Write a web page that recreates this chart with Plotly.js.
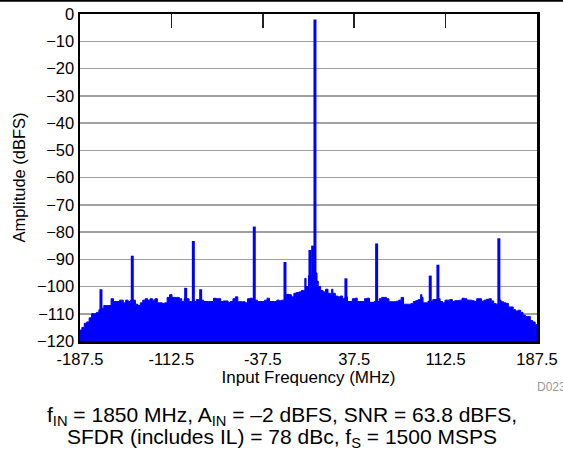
<!DOCTYPE html>
<html>
<head>
<meta charset="utf-8">
<script src="https://cdn.plot.ly/plotly-3.0.1.min.js"></script>
<style>
  html, body { margin: 0; padding: 0; background: #fff; }
  #chart { width: 563px; height: 449px; }
</style>
</head>
<body>
<div id="chart"></div>
<script>
// Noise-floor envelope (MHz, dBFS)
const noiseFreq = [-187.5,-186,-184,-182,-180,-178,-176,-174,-172,-170,-168,-166,-164,-162,-160,-157,-155,-152,-150,-148,-146,-142,-140,-138,-136,-134,-132,-130,-128,-126,-124,-120,-118,-116,-114,-112,-108,-106,-104,-102,-98,-96,-92,-90,-86,-82,-78,-76,-72,-70,-66,-64,-62,-60,-58,-54,-52,-50,-48,-46,-42,-38,-36,-34,-32,-28,-26,-24,-22,-18,-16,-14,-12,-10,-8,-6,-4,-3,-2,0,6,7,8,10,12,14,16,18,19,20,22,24,26,28,30,32,34,36,38,40,44,46,48,50,54,56,58,60,62,64,66,70,72,74,76,78,82,84,86,88,90,92,93,94,98,102,106,108,110,112,114,116,118,120,124,126,128,130,134,136,138,140,142,144,146,148,150,152,154,156,158,160,162,164,166,168,170,172,174,176,178,180,182,184,186,187.5];
const noiseAmp = [-116,-115,-113.5,-113,-111.5,-110,-110,-109.5,-108.5,-108,-107,-107,-107,-104.5,-105.5,-105.5,-105,-106,-105,-105.5,-105,-106.5,-107,-106,-105,-104.5,-105,-104.5,-105,-104.5,-106,-106.2,-106,-104,-103,-104,-104,-104.5,-105.5,-104.5,-105.5,-105.5,-104.8,-105,-105.5,-105.5,-104.3,-104.5,-105.5,-105.3,-105.8,-105.5,-104.5,-103.8,-105.6,-105.6,-106,-104.5,-104.3,-105,-105.5,-105.5,-105,-104.3,-105.5,-105.5,-105,-105.2,-105,-102.9,-103,-103.8,-102.5,-102.2,-102,-101.5,-101.5,-97,-100,-96,-95,-98,-100,-101.5,-102,-101,-102.5,-103,-101,-102.5,-103.5,-103.8,-103.5,-104.5,-103.8,-105.5,-105.5,-104.5,-104.3,-105.5,-105.5,-104.5,-104.3,-105.8,-105.5,-105.5,-104.5,-104,-104,-104.5,-105.6,-105.6,-105.4,-105,-104,-106.5,-106.5,-106.3,-105.5,-105.2,-104.8,-103,-104,-106,-105.5,-104.8,-104.5,-105.5,-106,-105,-105,-104.8,-105.5,-105.2,-105,-104.3,-104.5,-105,-105.2,-105.5,-104.5,-104.5,-105.4,-105,-104.7,-104.5,-105.3,-106.3,-106.5,-105,-105.6,-106,-106.2,-107.5,-107.5,-108.5,-109,-108.7,-109.5,-110.5,-111,-111,-112.5,-113,-114,-115];

// Tones and spurs (MHz, dBFS)
const spurFreq = [-170.3,-144.6,-100.8,-94.5,-88.5,-44.5,-19.3,1.2,3.4,5.3,30.7,55.9,99.9,106.2,156.2];
const spurAmp  = [-101,-88.7,-100.5,-83.3,-101,-78,-91,-86.6,-85,-2,-97,-84.2,-96,-92,-82.3];

// Axis ticks
const xTicks = [-187.5,-112.5,-37.5,37.5,112.5,187.5];
const xTickText = ['-187.5','-112.5','-37.5','37.5','112.5','187.5'];
const yTicks = [0,-10,-20,-30,-40,-50,-60,-70,-80,-90,-100,-110,-120];
const xRange = [-187.5, 187.5];
const yRange = [-120, 0];

const blue = '#0000ff';
const FONT = 'Liberation Sans, Arial, sans-serif';

// Filled noise floor
const fillX = noiseFreq.concat([xRange[1], xRange[0]]);
const fillY = noiseAmp.concat([yRange[0], yRange[0]]);
const noiseTrace = {
  x: fillX, y: fillY, type: 'scatter', mode: 'lines',
  line: {color: blue, width: 1, shape: 'hv'},
  fill: 'toself', fillcolor: blue, hoverinfo: 'skip', showlegend: false
};

// Spur lines
const sx = [], sy = [];
spurFreq.forEach((f, i) => { sx.push(f, f, null); sy.push(yRange[0], spurAmp[i], null); });
const spurTrace = {
  x: sx, y: sy, type: 'scatter', mode: 'lines',
  line: {color: blue, width: 3}, showlegend: false, hoverinfo: 'skip'
};

// Dummy trace for top axis
const topTrace = {x: xRange, y: yRange, xaxis: 'x2', yaxis: 'y', mode: 'none', showlegend: false, hoverinfo: 'skip'};

const layout = {
  width: 563, height: 449,
  margin: {l: 80, r: 26, t: 14, b: 108},
  paper_bgcolor: '#fff', plot_bgcolor: '#fff',
  font: {family: FONT, size: 16, color: '#000'},
  xaxis: {
    range: xRange, tickvals: xTicks, ticktext: xTickText,
    ticks: '', showgrid: false, zeroline: false, ticklabelstandoff: 2,
    showline: true, linecolor: '#000', linewidth: 2.5, mirror: true,
    tickfont: {family: FONT, size: 16.5, color: '#000'},
    title: {text: 'Input Frequency (MHz)', font: {family: FONT, size: 17, color: '#000'}, standoff: 4}
  },
  xaxis2: {
    range: xRange, overlaying: 'x', side: 'top', tickvals: xTicks.slice(1, 5),
    ticks: 'inside', ticklen: 14, tickwidth: 1.5, tickcolor: '#222',
    showticklabels: false, showgrid: false, zeroline: false, showline: false
  },
  yaxis: {
    range: yRange, tickvals: yTicks, ticks: '',
    showgrid: true, gridcolor: '#a0a0a0', gridwidth: 1.5, zeroline: false,
    showline: true, linecolor: '#000', linewidth: 2.5, mirror: true,
    tickfont: {family: FONT, size: 16.5, color: '#000'},
    title: {text: 'Amplitude (dBFS)', font: {family: FONT, size: 16.5, color: '#000'}, standoff: 8}
  },
  shapes: [{
    type: 'line', xref: 'paper', yref: 'paper',
    x0: -80/457, x1: 483/457, y0: 341/327 - 0.002, y1: 341/327 - 0.002,
    line: {color: '#000', width: 2}
  }],
  annotations: [
    {xref: 'paper', yref: 'paper', x: 488/457, y: -46/327, xanchor: 'right', yanchor: 'middle',
     text: 'D023', showarrow: false, font: {family: FONT, size: 12, color: '#999'}},
    {xref: 'paper', yref: 'paper', x: (282-80)/457, y: -75/327, xanchor: 'center', yanchor: 'middle',
     text: 'f<sub>IN</sub> = 1850 MHz, A<sub>IN</sub> = \u20132 dBFS, SNR = 63.8 dBFS,', showarrow: false,
     font: {family: FONT, size: 21, color: '#000'}},
    {xref: 'paper', yref: 'paper', x: (282-80)/457, y: -97/327, xanchor: 'center', yanchor: 'middle',
     text: 'SFDR (includes IL) = 78 dBc, f<sub>S</sub> = 1500 MSPS', showarrow: false,
     font: {family: FONT, size: 21, color: '#000'}}
  ]
};

Plotly.newPlot('chart', [noiseTrace, spurTrace, topTrace], layout, {displayModeBar: false, staticPlot: true});
</script>
</body>
</html>
